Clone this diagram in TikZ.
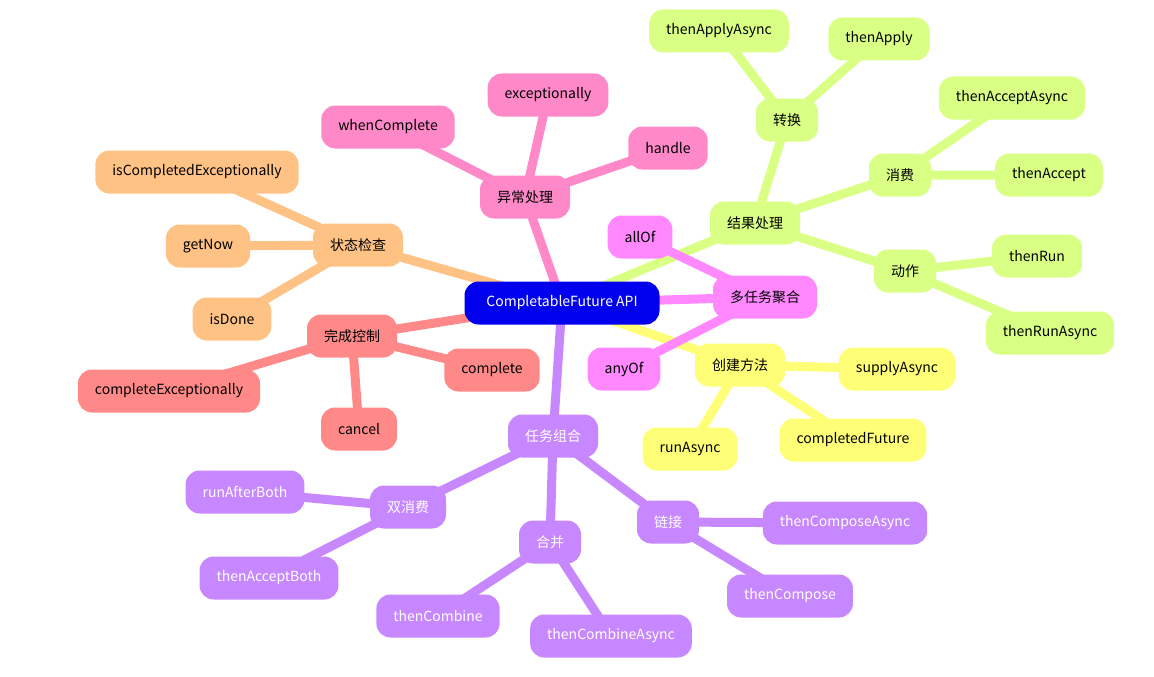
\documentclass[tikz,border=0pt]{standalone}
\usepackage{fontspec}
\setmainfont{Noto Sans CJK SC}
\usetikzlibrary{backgrounds}
\definecolor{cRoot}{HTML}{0000EE}
\definecolor{cPink}{HTML}{FF88C8}
\definecolor{cOra}{HTML}{FFC285}
\definecolor{cRed}{HTML}{FF8888}
\definecolor{cPur}{HTML}{C687FF}
\definecolor{cYel}{HTML}{FFFF77}
\definecolor{cMag}{HTML}{FF88FF}
\definecolor{cGre}{HTML}{DAFF85}
\tikzset{
 nd/.style={rounded corners=14pt,minimum height=43pt,inner xsep=17pt,font=\fontsize{14pt}{16pt}\selectfont,text=black},
 ed/.style={line width=9pt,line cap=round},
}
\begin{document}
\begin{tikzpicture}[x=1pt,y=-1pt]
\useasboundingbox (0,0) rectangle (1154,677);
\node[nd,fill=cRoot,text=white,minimum width=195pt] (root) at (562,303) {CompletableFuture API};
% pink
\node[nd,fill=cPink] (yc) at (525,197) {异常处理};
\node[nd,fill=cPink] (wc) at (388,127) {whenComplete};
\node[nd,fill=cPink] (ex) at (548,95) {exceptionally};
\node[nd,fill=cPink] (ha) at (668,148) {handle};
% orange
\node[nd,fill=cOra] (zt) at (358,245) {状态检查};
\node[nd,fill=cOra] (ice) at (197,172) {isCompletedExceptionally};
\node[nd,fill=cOra] (gn) at (208,246) {getNow};
\node[nd,fill=cOra] (id) at (232,319) {isDone};
% red
\node[nd,fill=cRed] (wk) at (352,336) {完成控制};
\node[nd,fill=cRed] (ce) at (169,391) {completeExceptionally};
\node[nd,fill=cRed] (cp) at (492,370) {complete};
\node[nd,fill=cRed] (ca) at (359,429) {cancel};
% purple
\tikzset{pn/.style={nd,fill=cPur,text=white}}
\node[pn] (rw) at (553,436) {任务组合};
\node[pn] (sx) at (408,507) {双消费};
\node[pn] (rab) at (245,492) {runAfterBoth};
\node[pn] (tab) at (269,578) {thenAcceptBoth};
\node[pn] (hb) at (550,542) {合并};
\node[pn] (tc) at (438,616) {thenCombine};
\node[pn] (tca) at (611,636) {thenCombineAsync};
\node[pn] (lj) at (668,522) {链接};
\node[pn] (tcpa) at (845,523) {thenComposeAsync};
\node[pn] (tcp) at (790,596) {thenCompose};
% yellow
\node[nd,fill=cYel] (cj) at (740,365) {创建方法};
\node[nd,fill=cYel] (sa) at (897,369) {supplyAsync};
\node[nd,fill=cYel] (cf) at (853,440) {completedFuture};
\node[nd,fill=cYel] (ra) at (690,449) {runAsync};
% magenta
\node[nd,fill=cMag] (dr) at (765,297) {多任务聚合};
\node[nd,fill=cMag] (all) at (640,237) {allOf};
\node[nd,fill=cMag] (any) at (624,369) {anyOf};
% green
\node[nd,fill=cGre] (jg) at (755,223) {结果处理};
\node[nd,fill=cGre] (zh) at (787,120) {转换};
\node[nd,fill=cGre] (taa) at (719,31) {thenApplyAsync};
\node[nd,fill=cGre] (ta) at (879,39) {thenApply};
\node[nd,fill=cGre] (xf) at (900,175) {消费};
\node[nd,fill=cGre] (tacca) at (1012,98) {thenAcceptAsync};
\node[nd,fill=cGre] (tacc) at (1049,175) {thenAccept};
\node[nd,fill=cGre] (dz) at (905,271) {动作};
\node[nd,fill=cGre] (tr) at (1037,256) {thenRun};
\node[nd,fill=cGre] (tra) at (1050,333) {thenRunAsync};
\begin{scope}[on background layer]
\draw[ed,cPink] (root.center)--(yc.center) (yc.center)--(wc.center) (yc.center)--(ex.center) (yc.center)--(ha.center);
\draw[ed,cOra] (root.center)--(zt.center) (zt.center)--(ice.center) (zt.center)--(gn.center) (zt.center)--(id.center);
\draw[ed,cRed] (root.center)--(wk.center) (wk.center)--(ce.center) (wk.center)--(cp.center) (wk.center)--(ca.center);
\draw[ed,cPur] (root.center)--(rw.center) (rw.center)--(sx.center) (sx.center)--(rab.center) (sx.center)--(tab.center)
  (rw.center)--(hb.center) (hb.center)--(tc.center) (hb.center)--(tca.center)
  (rw.center)--(lj.center) (lj.center)--(tcpa.center) (lj.center)--(tcp.center);
\draw[ed,cYel] (root.center)--(cj.center) (cj.center)--(sa.center) (cj.center)--(cf.center) (cj.center)--(ra.center);
\draw[ed,cGre] (root.center)--(jg.center) (jg.center)--(zh.center) (zh.center)--(taa.center) (zh.center)--(ta.center)
  (jg.center)--(xf.center) (xf.center)--(tacca.center) (xf.center)--(tacc.center)
  (jg.center)--(dz.center) (dz.center)--(tr.center) (dz.center)--(tra.center);
\draw[ed,cMag] (root.center)--(dr.center) (dr.center)--(all.center) (dr.center)--(any.center);
\end{scope}
\end{tikzpicture}
\end{document}
